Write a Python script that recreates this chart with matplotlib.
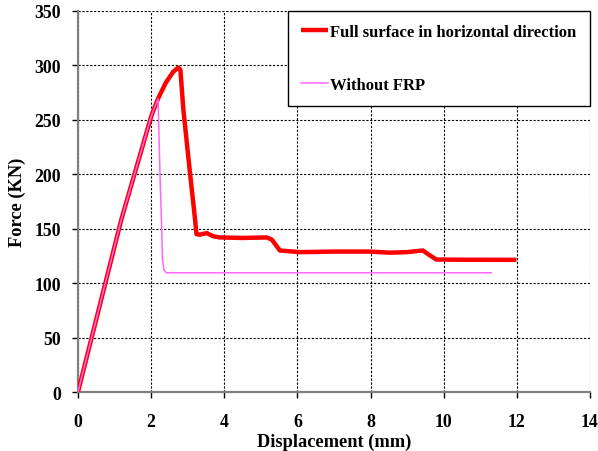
import matplotlib.pyplot as plt

# Full surface in horizontal direction (red)
full_x = [0.0, 1.19, 2.01, 2.19, 2.40, 2.60, 2.74, 2.80, 2.88, 3.06, 3.20, 3.24, 3.33, 3.52, 3.70, 3.88,
          4.50, 5.16, 5.30, 5.52, 6.07, 7.00, 7.98, 8.52, 9.00, 9.34, 9.43, 9.60, 9.80, 10.5, 11.99]
full_y = [0.0, 159, 254, 269.5, 284, 294, 298, 296, 260, 202, 159, 145, 144.5, 146, 143, 142,
          141.5, 142, 140, 130, 128.5, 129, 129, 128, 128.5, 129.7, 130, 126, 121.7, 121.5, 121.4]

# Without FRP (pink)
nofrp_x = [0.0, 1.19, 2.01, 2.19, 2.25, 2.29, 2.31, 2.35, 2.42, 5.0, 11.30]
nofrp_y = [0.0, 159, 254, 269.5, 190, 150, 122, 112, 109.5, 109.5, 109.5]

x_ticks = [0, 2, 4, 6, 8, 10, 12, 14]
y_ticks = [0, 50, 100, 150, 200, 250, 300, 350]

plt.rcParams['font.family'] = ['Liberation Serif', 'DejaVu Serif']
plt.rcParams['font.weight'] = 'bold'

fig = plt.figure(figsize=(5.98, 4.52), dpi=100)
ax = fig.add_axes([0.1304, 0.1305, 0.8562, 0.843])

ax.plot(full_x, full_y, color='#FF0000', lw=3.2, solid_joinstyle='round',
        solid_capstyle='butt', label='Full surface in horizontal direction', zorder=3)
ax.plot(nofrp_x, nofrp_y, color='#FF66FF', lw=1.1, label='Without FRP', zorder=4)

ax.set_xlim(0, 14)
ax.set_ylim(0, 350)
ax.set_xticks(x_ticks)
ax.set_yticks(y_ticks)
ax.grid(True, color='black', linestyle=(0, (2, 1.5)), lw=0.8)
ax.set_axisbelow(True)

for side in ['top', 'right']:
    ax.spines[side].set_visible(False)
for side in ['left', 'bottom']:
    ax.spines[side].set_color('#808080')
    ax.spines[side].set_linewidth(1.6)

ax.tick_params(axis='x', direction='out', length=4, width=1, pad=11, labelsize=12.8)
ax.tick_params(axis='y', direction='out', length=4, width=1, pad=8, labelsize=12.8)

ax.set_xlabel('Displacement (mm)', fontsize=13.2, fontweight='bold', labelpad=2)
ax.set_ylabel('Force (KN)', fontsize=13.2, fontweight='bold', labelpad=6)

leg = ax.legend(loc='upper right', bbox_to_anchor=(1.0, 1.0), borderaxespad=0,
                fancybox=False, framealpha=1, edgecolor='black', fontsize=12,
                handlelength=1.6, handletextpad=0.15, labelspacing=2.2, borderpad=0.8)
leg.get_frame().set_linewidth(1.0)
for t in leg.get_texts():
    t.set_fontweight('bold')

fig.savefig('out.png', dpi=100)
